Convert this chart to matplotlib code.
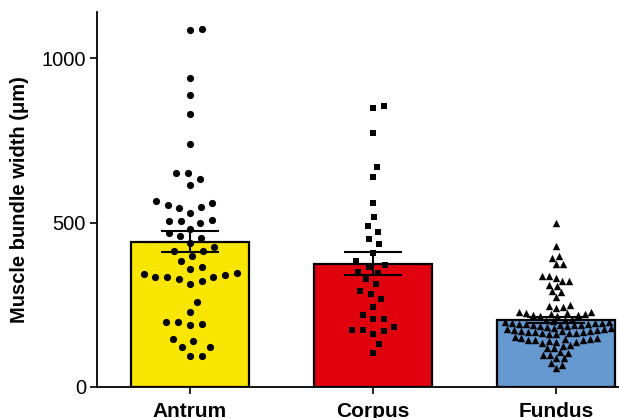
import numpy as np
import matplotlib
matplotlib.use('Agg')
import matplotlib.pyplot as plt

# regions of the stomach
regions = ['Antrum', 'Corpus', 'Fundus']
bar_colors = ['#F9E600', '#E1000E', '#6699D0']
markers = ['o', 's', '^']
marker_sizes = [7.2, 6.3, 7.4]   # pixels
spread = [12.0, 11.0, 7.0]       # min distance between points, pixels

# bar heights (mean) and error (SEM)
means = [441, 374, 204]
sems = [32, 35, 10]

# individual measurements (um)
antrum = [1085, 1088, 939, 888, 830, 739, 650, 650, 632, 614,
          559, 547, 544, 553, 565, 529, 505, 498, 505, 508,
          480, 459, 453, 468, 438, 413, 398, 413, 425, 383,
          365, 359, 347, 340, 334, 328, 313, 322, 334, 334,
          343, 258, 228, 198, 188, 191, 198, 146, 140, 122,
          122, 94, 94]
corpus = [848, 854, 772, 669, 638, 559, 517, 489, 471, 450,
          435, 407, 383, 365, 371, 346, 350, 328, 313, 283,
          292, 267, 243, 219, 207, 207, 173, 170, 161, 173,
          182, 131, 103]
fundus = [498, 429, 398, 392, 374, 374, 337, 331, 322, 337,
          322, 307, 310, 289, 292, 274,
          246, 240, 243, 249,
          228, 225, 222, 219, 216, 225, 222, 219, 216, 228,
          208, 205, 203, 201, 199, 197, 196, 195, 194, 193,
          192, 191, 190, 189, 188, 187, 186, 185,
          182, 180, 178, 176, 175, 174, 172, 171, 170, 169,
          168, 167, 166, 165, 164, 163, 162, 160,
          152, 150, 148, 146, 145, 144, 143, 142, 140, 138,
          136, 134,
          128, 125, 120, 118, 106, 103, 97, 97, 88, 88,
          73, 67, 58]
groups = [antrum, corpus, fundus]

W, H, DPI = 6.19, 4.18, 100
ax_rect = [97 / 619, 31 / 418, 522 / 619, 375 / 418]
xlim = (-0.508, 2.344)
ylim = (0, 1140)


def beeswarm(vals, d, px_x, px_y):
    # simple beeswarm: offsets in data x units so points sit >= d px apart
    vals = np.asarray(vals, dtype=float)
    ypx = vals * px_y
    order = np.argsort(vals)
    placed = []
    offs = np.zeros(len(vals))
    for i in order:
        y = ypx[i]
        cands = [0.0]
        near = [(px, py) for px, py in placed if abs(py - y) < d]
        for px, py in near:
            dx = np.sqrt(d * d - (py - y) ** 2)
            cands += [px + dx, px - dx]
        cands.sort(key=abs)
        for c in cands:
            if all((c - px) ** 2 + (y - py) ** 2 >= d * d - 1e-6
                   for px, py in near):
                offs[i] = c
                placed.append((c, y))
                break
    return offs / px_x


plt.rcParams['font.family'] = ['Liberation Sans', 'DejaVu Sans']

fig = plt.figure(figsize=(W, H), dpi=DPI)
ax = fig.add_axes(ax_rect)

px_x = ax_rect[2] * W * DPI / (xlim[1] - xlim[0])
px_y = ax_rect[3] * H * DPI / (ylim[1] - ylim[0])

pos = np.arange(len(regions))
ax.bar(pos, means, width=0.645, color=bar_colors, edgecolor='black',
       linewidth=1.6, zorder=1)

for p, vals, mk, ms, d in zip(pos, groups, markers, marker_sizes, spread):
    xs = p + beeswarm(vals, d, px_x, px_y)
    ax.scatter(xs, vals, marker=mk, color='black', s=(ms * 72 / DPI) ** 2,
               linewidths=0, zorder=2)

ax.errorbar(pos, means, yerr=sems, fmt='none', ecolor='black',
            elinewidth=1.5, capsize=21, capthick=1.5, zorder=3)

ax.set_xlim(*xlim)
ax.set_ylim(*ylim)
ax.set_yticks([0, 500, 1000])
ax.set_xticks(pos)
ax.set_xticklabels(regions, fontsize=15, fontweight='bold')
ax.tick_params(axis='y', labelsize=14.5, length=5, width=1.2, pad=3)
ax.tick_params(axis='x', length=5, width=1.2, pad=6)
ax.set_ylabel('Muscle bundle width (\u03bcm)', fontsize=14.5,
              fontweight='bold', labelpad=9)

for side in ['top', 'right']:
    ax.spines[side].set_visible(False)
for side in ['left', 'bottom']:
    ax.spines[side].set_linewidth(1.3)

fig.savefig('out.png', dpi=DPI)
